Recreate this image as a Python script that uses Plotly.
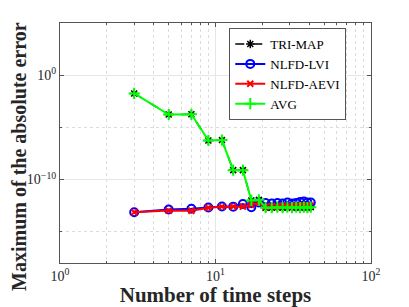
import plotly.graph_objects as go

steps = [3, 5, 7, 9, 11, 13, 15, 17, 19, 21, 23, 25, 27, 29, 31, 33, 35, 37, 39, 41]

tri_map_exp = [-1.75, -3.77, -3.75, -6.26, -6.22, -9.1, -9.1, -12.0, -11.95, -12.7,
               -12.7, -12.65, -12.7, -12.65, -12.7, -12.65, -12.7, -12.65, -12.7, -12.65]
lvi_exp = [-13.13, -12.88, -12.8, -12.68, -12.58, -12.6, -12.35, -12.65, -12.2, -12.25,
           -12.3, -12.25, -12.3, -12.2, -12.3, -12.25, -12.15, -12.1, -12.2, -12.2]
aevi_exp = [-13.13, -12.98, -13.0, -12.7, -12.6, -12.58, -12.6, -12.45, -12.2, -12.6,
            -12.55, -12.6, -12.5, -12.55, -12.55, -12.5, -12.5, -12.45, -12.5, -12.5]
avg_exp = [-1.75, -3.77, -3.75, -6.26, -6.22, -9.1, -9.1, -12.0, -11.95, -12.7,
           -12.7, -12.65, -12.7, -12.65, -12.7, -12.65, -12.7, -12.65, -12.7, -12.65]

tri_map = [10 ** e for e in tri_map_exp]
lvi = [10 ** e for e in lvi_exp]
aevi = [10 ** e for e in aevi_exp]
avg = [10 ** e for e in avg_exp]

FONT = "Liberation Serif"
TXT = "#262626"

fig = go.Figure()
fig.add_trace(go.Scatter(x=steps, y=tri_map, name="TRI-MAP", mode="lines+markers",
                         line=dict(color="black", width=1.5, dash="dash"),
                         marker=dict(symbol="asterisk-open", size=7, color="black",
                                     line=dict(color="black", width=1.5))))
fig.add_trace(go.Scatter(x=steps, y=lvi, name="NLFD-LVI", mode="lines+markers",
                         line=dict(color="#0000ff", width=2),
                         marker=dict(symbol="circle-open", size=8, color="#0000ff",
                                     line=dict(color="#0000ff", width=2))))
fig.add_trace(go.Scatter(x=steps, y=aevi, name="NLFD-AEVI", mode="lines+markers",
                         line=dict(color="#ff0000", width=2),
                         marker=dict(symbol="x-thin-open", size=6, color="#ff0000",
                                     line=dict(color="#ff0000", width=2))))
fig.add_trace(go.Scatter(x=steps, y=avg, name="AVG", mode="lines+markers",
                         line=dict(color="#00ff00", width=2),
                         marker=dict(symbol="cross-thin-open", size=8, color="#00ff00",
                                     line=dict(color="#00ff00", width=2))))

axis_common = dict(
    type="log", showline=True, linecolor="#555555", linewidth=1, mirror="ticks",
    ticks="inside", ticklen=4, tickcolor="#555555", automargin=False,
    showgrid=True, gridcolor="#e6e6e6", gridwidth=1, zeroline=False,
    tickfont=dict(family=FONT, size=14, color=TXT),
)

fig.update_layout(
    width=401, height=299,
    margin=dict(l=52, r=38, t=15, b=44),
    paper_bgcolor="white", plot_bgcolor="white",
    showlegend=True,
    legend=dict(x=0.9205, y=0.979, xanchor="right", yanchor="top",
                bgcolor="white", bordercolor="#555555", borderwidth=1,
                font=dict(family=FONT, size=13, color="black"),
                itemwidth=30, tracegroupgap=0),
    xaxis=dict(
        **axis_common, range=[0, 2],
        tickvals=[1, 10, 100], ticktext=["10<sup>0</sup>", "10<sup>1</sup>", "10<sup>2</sup>"],
        minor=dict(tickvals=[2, 3, 4, 5, 6, 7, 8, 9, 20, 30, 40, 50, 60, 70, 80, 90],
                   ticks="inside", ticklen=2, tickcolor="#555555",
                   showgrid=True, gridcolor="#dcdcdc", griddash="dot"),
        title=dict(text="<b>Number of time steps</b>", standoff=2,
                   font=dict(family=FONT, size=21, color=TXT)),
    ),
    yaxis=dict(
        **axis_common, range=[-18, 5],
        tickvals=[1e-10, 1], ticktext=["10<sup>\u221210</sup>", "10<sup>0</sup>"],
        minor=dict(tickvals=[1e-15, 1e-5],
                   ticks="inside", ticklen=2, tickcolor="#555555",
                   showgrid=True, gridcolor="#dcdcdc", griddash="dot"),
    ),
    annotations=[dict(text="<b>Maximum of the absolute error</b>", textangle=-90,
                      xref="paper", yref="paper", x=-0.132, y=0.446,
                      xanchor="center", yanchor="middle", showarrow=False,
                      font=dict(family=FONT, size=20, color=TXT))],
)

fig.write_html("out.html")
